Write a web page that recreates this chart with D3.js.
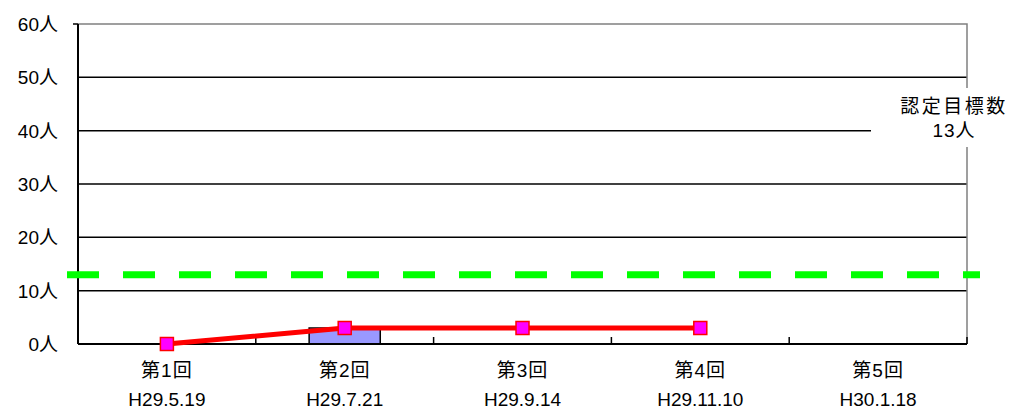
<!DOCTYPE html>
<html>
<head>
<meta charset="utf-8">
<script src="https://cdn.jsdelivr.net/npm/d3@7"></script>
<style>
  body { margin: 0; background: #fff; }
  text { font-family: "Liberation Sans", "Noto Sans CJK JP", sans-serif; fill: #000; }
</style>
</head>
<body>
<svg id="chart" width="1010" height="411"></svg>
<script>
const rounds = ["第1回", "第2回", "第3回", "第4回", "第5回"];
const dates = ["H29.5.19", "H29.7.21", "H29.9.14", "H29.11.10", "H30.1.18"];
const barValues = [0, 3, 0, 0, null];      // 認定者数 (per round)
const lineValues = [0, 3, 3, 3, null];     // 累計
const yTicks = [0, 10, 20, 30, 40, 50, 60];
const target = 13;

const width = 1010, height = 411;
const margin = { top: 24, right: 43, bottom: 67, left: 78 };
const svg = d3.select("#chart");

const x = d3.scaleBand()
    .domain(rounds)
    .range([margin.left, width - margin.right]);
const y = d3.scaleLinear()
    .domain([0, 60])
    .range([height - margin.bottom, margin.top]);

// gridlines
svg.append("g")
    .selectAll("line")
    .data(yTicks.filter(v => v > 0 && v < 60))
    .enter()
    .append("line")
    .attr("x1", margin.left)
    .attr("x2", v => v === 40 ? 871 : width - margin.right)
    .attr("y1", d => y(d)).attr("y2", d => y(d))
    .attr("stroke", "#000").attr("stroke-width", 1.5);

// top and right border (gray)
svg.append("path")
    .attr("d", `M${margin.left},${y(60)}H${width - margin.right}V${y(0)}`)
    .attr("fill", "none").attr("stroke", "#808080").attr("stroke-width", 1.5);

// bars
svg.append("g")
    .selectAll("rect")
    .data(rounds.map((r, i) => ({ r, v: barValues[i] })).filter(d => d.v))
    .enter()
    .append("rect")
    .attr("x", d => x(d.r) + x.bandwidth() * 0.3)
    .attr("width", x.bandwidth() * 0.4)
    .attr("y", d => y(d.v))
    .attr("height", d => y(0) - y(d.v))
    .attr("fill", "#9999FF")
    .attr("stroke", "#000").attr("stroke-width", 1.5);

// y axis
svg.append("line")
    .attr("x1", margin.left).attr("x2", margin.left)
    .attr("y1", y(60)).attr("y2", y(0))
    .attr("stroke", "#000").attr("stroke-width", 2);
svg.append("line")
    .attr("x1", margin.left - 5).attr("x2", margin.left)
    .attr("y1", y(60)).attr("y2", y(60))
    .attr("stroke", "#000").attr("stroke-width", 1.5);

svg.append("g")
    .selectAll("text")
    .data(yTicks)
    .enter()
    .append("text")
    .attr("x", 58)
    .attr("y", d => y(d))
    .attr("dy", "0.36em")
    .attr("text-anchor", "end")
    .style("font-size", "19px")
    .text(d => d + "人");

// x axis
svg.append("line")
    .attr("x1", margin.left).attr("x2", width - margin.right)
    .attr("y1", y(0)).attr("y2", y(0))
    .attr("stroke", "#000").attr("stroke-width", 2);
const edges = rounds.map(r => x(r)).concat([x(rounds[4]) + x.bandwidth()]).slice(1);
svg.append("g")
    .selectAll("line")
    .data(edges)
    .enter()
    .append("line")
    .attr("x1", d => d).attr("x2", d => d)
    .attr("y1", y(0)).attr("y2", y(0) - 7)
    .attr("stroke", "#000").attr("stroke-width", 1.5);

const xl = svg.append("g")
    .selectAll("g")
    .data(rounds)
    .enter()
    .append("g")
    .attr("transform", d => `translate(${x(d) + x.bandwidth() / 2},0)`);
xl.append("text")
    .attr("y", 377)
    .attr("text-anchor", "middle")
    .style("font-size", "19px")
    .style("letter-spacing", "1px")
    .text(d => d);
xl.append("text")
    .attr("y", 406)
    .attr("text-anchor", "middle")
    .style("font-size", "19px")
    .text((d, i) => dates[i]);

// target dashed line
svg.append("line")
    .attr("x1", 67).attr("x2", 980)
    .attr("y1", y(target)).attr("y2", y(target))
    .attr("stroke", "#00FF00").attr("stroke-width", 7)
    .attr("stroke-dasharray", "32,24");

// target label
svg.append("rect")
    .attr("x", 871).attr("y", 88)
    .attr("width", 139).attr("height", 59)
    .attr("fill", "#fff");
svg.append("text")
    .attr("x", 954).attr("y", 113)
    .attr("text-anchor", "middle")
    .style("font-size", "19px")
    .style("letter-spacing", "2.5px")
    .text("認定目標数");
svg.append("text")
    .attr("x", 954).attr("y", 137)
    .attr("text-anchor", "middle")
    .style("font-size", "19px")
    .style("letter-spacing", "1px")
    .text(target + "人");

// cumulative line
const pts = rounds.map((r, i) => ({ r, v: lineValues[i] })).filter(d => d.v !== null);
svg.append("path")
    .datum(pts)
    .attr("fill", "none")
    .attr("stroke", "#FF0000").attr("stroke-width", 5)
    .attr("d", d3.line().x(d => x(d.r) + x.bandwidth() / 2).y(d => y(d.v)));
svg.append("g")
    .selectAll("rect")
    .data(pts)
    .enter()
    .append("rect")
    .attr("x", d => x(d.r) + x.bandwidth() / 2 - 6.5)
    .attr("y", d => y(d.v) - 6.5)
    .attr("width", 13).attr("height", 13)
    .attr("fill", "#FF00FF")
    .attr("stroke", "#FF0000").attr("stroke-width", 1.5);
</script>
</body>
</html>
